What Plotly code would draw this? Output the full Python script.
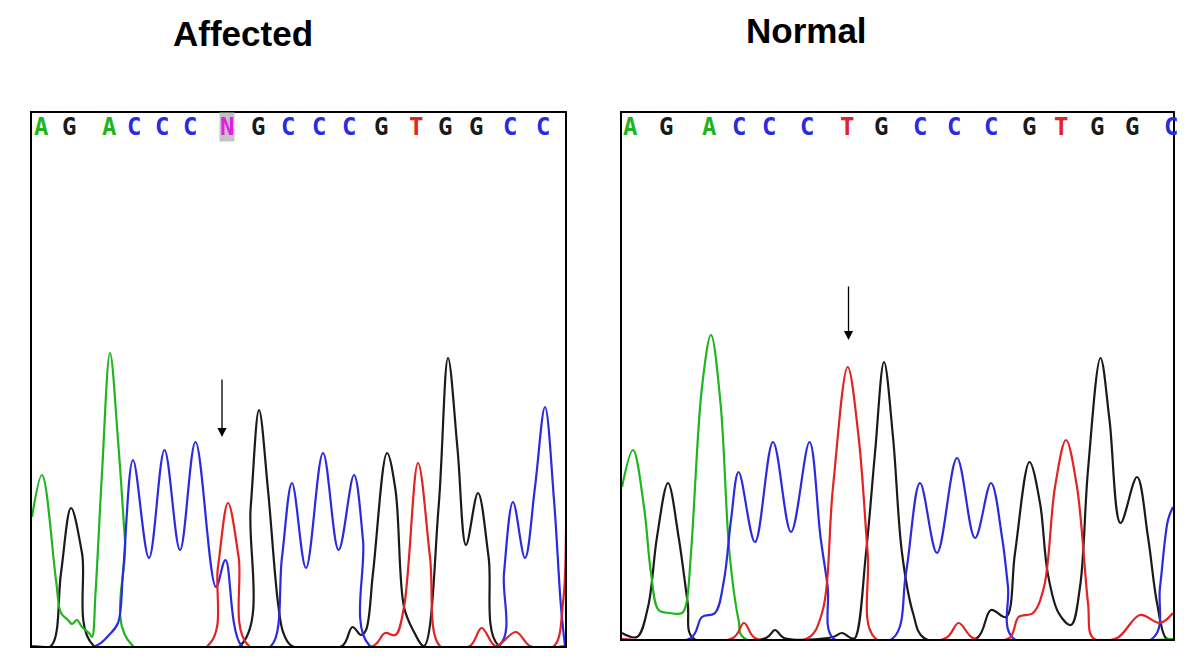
import plotly.graph_objects as go

# ---------------- data (scan position, signal) ----------------
# Affected sample
aff_A = [(0,129),(10,171),(24,66),(29,33),(36,26),(40,22),(45,26),(50,19),(57,13),(60,9),
         (63.5,53),(70,173),(78,293),(86,206),(93,106),(101,0),(533,0)]
aff_G = [(0,0),(19,0),(29,73),(39,138),(50,93),(62,0),(208,0),(218.7,139),(227,236),(236,156),
         (246,43),(251.4,13),(260,0),(310,0),(320.4,19),(329,11),(334,16),(341,73),(355,193),
         (363.5,156),(372,39),(381,16),(392,0),(406.6,139),(416,288),(425.6,196),(434,101),
         (446,153),(456.6,89),(467,0),(533,0)]
aff_C = [(0,0),(63.5,0),(77,11),(86,23),(91,73),(101,186),(117,88),(132.5,196),(148,96),
         (163.5,204),(184,59),(193.5,86),(210,0),(239,0),(250,89),(260,163),(274,78),(291,193),
         (306.6,96),(322,171),(331,106),(338,0),(467,0),(472,73),(481,144),(493,88),(503,159),
         (513,239),(522,146),(529,39),(533,0)]
aff_T = [(0,0),(175.6,0),(186,79),(196,143),(206.6,89),(217,0),(341,0),(353,13),(363.5,11),
         (372,39),(386,183),(398,89),(408,0),(438,0),(449.7,18),(463.5,0),(484,14),(498,0),
         (522,0),(531,43),(534,116)]
aff_bases = ["A","G","A","C","C","C","N","G","C","C","C","G","T","G","G","C","C"]
aff_base_pos = [9,37,77,102,130,158,195,226,256,287,317,349,384,413,444,478,511]
aff_mutation_scan = 190
aff_arrow_head = 209

# Normal sample
nor_A = [(0,152),(11,189),(22,132),(29,66),(36.6,29),(47.5,26),(60,26),(64,34),(69,86),(80,252),
         (89,304),(98.5,236),(107.5,86),(116.6,19),(122,1),(551,0)]
nor_G = [(0,6),(15,2),(26,32),(35,102),(46,156),(56.6,102),(65.7,36),(71,1),(144,1),(153,9),
         (162,1),(211,2),(220,6),(229,1),(233,1),(244,86),(253,186),(262,277),(271,202),(280,86),
         (291,26),(302,1),(355,1),(369,29),(384,22),(393,86),(407.5,177),(418,136),(425.7,66),
         (436.6,26),(449,14),(458,52),(466,169),(478.5,281),(487.5,219),(498.5,116),(515,162),
         (526,102),(535,36),(544,1),(551,0)]
nor_C = [(0,0),(69,1),(80,22),(93,26),(102,59),(109,119),(116.6,167),(133,97),(151,197),(169,107),
         (187.5,197),(198.5,102),(205.7,52),(211,1),(271,1),(284,66),(298,156),(315,86),(335,181),
         (353,101),(369,156),(380,102),(386,52),(391,1),(531,1),(538,52),(546,119),(551,132)]
nor_T = [(0,0),(111,1),(122,16),(133,1),(186,1),(200,26),(211,152),(225.7,272),(236.6,202),
         (245.7,86),(253,1),(324,1),(336.6,16),(351,1),(387.5,1),(396.6,22),(411,26),(422,52),
         (433,152),(444,199),(455,152),(466,36),(471,1),(495,1),(518,24),(538,16),(551,26)]
nor_bases = ["A","G","A","C","C","C","T","G","C","C","C","G","T","G","G","C"]
nor_base_pos = [9,44,88,117,147,185,225,259,298,332,369,407,439,475,510,549]
nor_mutation_scan = 226.5
nor_arrow_head = 299

titles = ["Affected", "Normal"]

# ---------------- styling ----------------
COLORS = {"A": "#1fb51f", "G": "#1a1a1a", "C": "#2a2ae0", "T": "#e32222", "N": "#e020e0"}
PAGE_MARGIN = 8               # default body margin of the html page
W, H = 1200 - 2 * PAGE_MARGIN, 665 - 2 * PAGE_MARGIN

panels = [
    dict(name="x", yname="y", left=32, right=565, top=113, bottom=646,
         traces={"G": aff_G, "A": aff_A, "C": aff_C, "T": aff_T},
         bases=aff_bases, pos=aff_base_pos, mut=aff_mutation_scan, head=aff_arrow_head,
         title=titles[0], title_x=243, title_y=33, arrow_len=59),
    dict(name="x2", yname="y2", left=622, right=1173, top=113, bottom=639,
         traces={"G": nor_G, "A": nor_A, "C": nor_C, "T": nor_T},
         bases=nor_bases, pos=nor_base_pos, mut=nor_mutation_scan, head=nor_arrow_head,
         title=titles[1], title_x=807, title_y=30, arrow_len=55),
]


def px_x(v):
    return (v - PAGE_MARGIN) / W


def px_y(v):
    return 1 - (v - PAGE_MARGIN) / H


fig = go.Figure()
annotations = []
layout = {}
for i, p in enumerate(panels):
    xr = p["right"] - p["left"]
    yr = p["bottom"] - p["top"]
    for ch in ["G", "A", "C", "T"]:
        pts = p["traces"][ch]
        fig.add_trace(go.Scatter(
            x=[a for a, _ in pts], y=[b for _, b in pts], mode="lines",
            line=dict(color=COLORS[ch], width=2.2, shape="spline", smoothing=1.0),
            xaxis=p["name"], yaxis=p["yname"], showlegend=False, hoverinfo="skip"))
    ax_key = "xaxis" if i == 0 else "xaxis2"
    ay_key = "yaxis" if i == 0 else "yaxis2"
    common = dict(showgrid=False, zeroline=False, showticklabels=False, ticks="",
                  showline=True, mirror=True, linecolor="black", linewidth=1.5, fixedrange=True)
    layout[ax_key] = dict(domain=[px_x(p["left"]), px_x(p["right"])], range=[0, xr],
                          anchor=p["yname"], **common)
    layout[ay_key] = dict(domain=[px_y(p["bottom"]), px_y(p["top"])], range=[0, yr],
                          anchor=p["name"], **common)
    # base calls
    base_y = yr - 14
    for b, xpos in zip(p["bases"], p["pos"]):
        annotations.append(dict(
            x=xpos, y=base_y, xref=p["name"], yref=p["yname"], text="<b>%s</b>" % b,
            showarrow=False,
            font=dict(family="DejaVu Sans Mono", size=24, color=COLORS[b]),
            bgcolor="#c4c4c4" if b == "N" else None, borderpad=0,
            xanchor="center", yanchor="middle"))
    # arrow marking the mutation
    annotations.append(dict(
        x=p["mut"], y=p["head"], xref=p["name"], yref=p["yname"], text="",
        showarrow=True, arrowhead=2, arrowsize=1.4, arrowwidth=1.3, arrowcolor="black",
        ax=0, ay=-p["arrow_len"]))
    # title
    annotations.append(dict(
        x=px_x(p["title_x"]), y=px_y(p["title_y"]), xref="paper", yref="paper",
        text="<b>%s</b>" % p["title"], showarrow=False,
        font=dict(family="Liberation Sans", size=35, color="black"),
        xanchor="center", yanchor="middle"))

fig.update_layout(
    width=W, height=H, margin=dict(l=0, r=0, t=0, b=0),
    paper_bgcolor="white", plot_bgcolor="white",
    annotations=annotations, **layout)

fig.write_html("out.html")
